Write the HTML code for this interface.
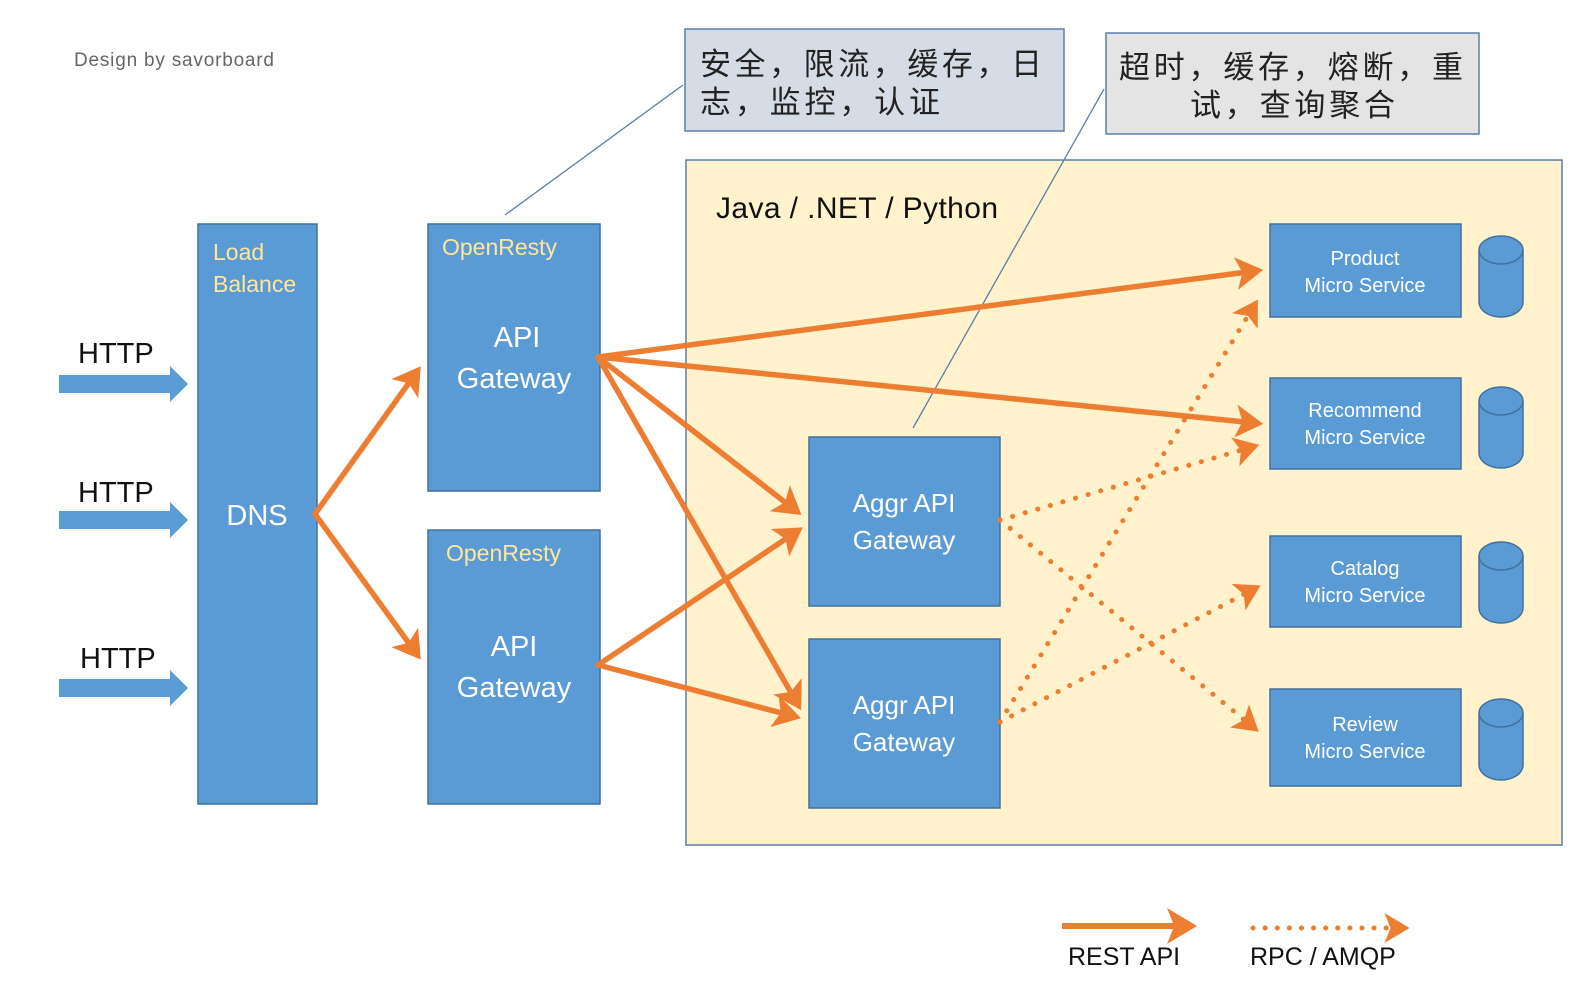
<!DOCTYPE html>
<html><head><meta charset="utf-8"><style>
html,body{margin:0;padding:0;background:#fff;width:1574px;height:982px;overflow:hidden}
svg{display:block}
text{font-family:"Liberation Sans","Noto Sans CJK SC",sans-serif}
</style></head><body>
<svg width="1574" height="982" viewBox="0 0 1574 982" xmlns="http://www.w3.org/2000/svg">
<defs>
<marker id="ah" markerWidth="6" markerHeight="6" refX="3.5" refY="3" orient="auto" markerUnits="strokeWidth"><path d="M0,0 L5,3 L0,6 L1.2,3 Z" fill="#ed7d31"/></marker>
<marker id="ahd" markerWidth="6" markerHeight="6" refX="3.5" refY="3" orient="auto" markerUnits="strokeWidth"><path d="M0,0 L5,3 L0,6 L1.2,3 Z" fill="#ed7d31"/></marker>
</defs>
<text x="74" y="66" font-size="19" fill="#666" textLength="200">Design by savorboard</text>

<rect x="685" y="29" width="379" height="102" fill="#d6dce5" stroke="#5b7fa8" stroke-width="1.5"/>
<text x="700" y="75" font-size="31" fill="#222" textLength="342">安全，限流，缓存，日</text>
<text x="700" y="113" font-size="31" fill="#222" textLength="240">志，监控，认证</text>
<rect x="1106" y="33" width="373" height="101" fill="#e4e4e4" stroke="#5b7fa8" stroke-width="1.5"/>
<text x="1119" y="78" font-size="31" fill="#222" textLength="344">超时，缓存，熔断，重</text>
<text x="1190" y="116" font-size="31" fill="#222" textLength="205">试，查询聚合</text>

<rect x="686" y="160" width="876" height="685" fill="#fff2cc" stroke="#5b7fa8" stroke-width="1.5"/>
<text x="716" y="218" font-size="30" fill="#111" textLength="282">Java / .NET / Python</text>

<line x1="505" y1="215" x2="683" y2="85" stroke="#5b7fa8" stroke-width="1.3"/>
<line x1="913" y1="428" x2="1104" y2="89" stroke="#5b7fa8" stroke-width="1.3"/>

<g fill="#5b9bd5">
<path d="M59,375 H170 V366 L188,384 L170,402 V393 H59 Z"/>
<path d="M59,511 H170 V502 L188,520 L170,538 V529 H59 Z"/>
<path d="M59,679 H170 V670 L188,688 L170,706 V697 H59 Z"/>
</g>
<g font-size="29" fill="#111">
<text x="78" y="363">HTTP</text><text x="78" y="502">HTTP</text><text x="80" y="668">HTTP</text>
</g>

<g fill="#5b9bd5" stroke="#41719c" stroke-width="1.5">
<rect x="198" y="224" width="119" height="580"/>
<rect x="428" y="224" width="172" height="267"/>
<rect x="428" y="530" width="172" height="274"/>
<rect x="809" y="437" width="191" height="169"/>
<rect x="809" y="639" width="191" height="169"/>
<rect x="1270" y="224" width="191" height="93"/>
<rect x="1270" y="378" width="191" height="91"/>
<rect x="1270" y="536" width="191" height="91"/>
<rect x="1270" y="689" width="191" height="97"/>
</g>
<g fill="#5b9bd5" stroke="#41719c" stroke-width="1.5">
<path d="M1479,250 V302 A22,15 0 0 0 1523,302 V250"/><ellipse cx="1501" cy="250" rx="22" ry="14"/>
<path d="M1479,401 V453 A22,15 0 0 0 1523,453 V401"/><ellipse cx="1501" cy="401" rx="22" ry="14"/>
<path d="M1479,556 V608 A22,15 0 0 0 1523,608 V556"/><ellipse cx="1501" cy="556" rx="22" ry="14"/>
<path d="M1479,713 V765 A22,15 0 0 0 1523,765 V713"/><ellipse cx="1501" cy="713" rx="22" ry="14"/>
</g>

<g fill="#ffe699" font-size="23">
<text x="213" y="260">Load</text><text x="213" y="292">Balance</text>
<text x="442" y="255">OpenResty</text><text x="446" y="561">OpenResty</text>
</g>
<g fill="#fff" font-size="29" text-anchor="middle">
<text x="257" y="525">DNS</text>
<text x="517" y="347">API</text><text x="514" y="388">Gateway</text>
<text x="514" y="656">API</text><text x="514" y="697">Gateway</text>
</g>
<g fill="#fff" font-size="26" text-anchor="middle">
<text x="904" y="512">Aggr API</text><text x="904" y="549">Gateway</text>
<text x="904" y="714">Aggr API</text><text x="904" y="751">Gateway</text>
</g>
<g fill="#fff" font-size="20" text-anchor="middle">
<text x="1365" y="265">Product</text><text x="1365" y="292">Micro Service</text>
<text x="1365" y="417">Recommend</text><text x="1365" y="444">Micro Service</text>
<text x="1365" y="575">Catalog</text><text x="1365" y="602">Micro Service</text>
<text x="1365" y="731">Review</text><text x="1365" y="758">Micro Service</text>
</g>

<g stroke="#ed7d31" stroke-width="5.5" fill="none" marker-end="url(#ah)" stroke-linecap="round">
<line x1="315" y1="514" x2="416" y2="373"/>
<line x1="315" y1="514" x2="416" y2="653"/>
<line x1="598" y1="357" x2="1255" y2="271"/>
<line x1="598" y1="357" x2="1255" y2="423"/>
<line x1="598" y1="357" x2="795" y2="510"/>
<line x1="598" y1="357" x2="797" y2="703"/>
<line x1="598" y1="665" x2="796" y2="532"/>
<line x1="598" y1="665" x2="793" y2="716"/>
</g>
<g stroke="#ed7d31" stroke-width="5" fill="none" stroke-dasharray="0.1 13" stroke-linecap="round" marker-end="url(#ahd)">
<line x1="1000" y1="520" x2="1252" y2="447"/>
<line x1="1000" y1="520" x2="1253" y2="727"/>
<line x1="1000" y1="722" x2="1254" y2="306"/>
<line x1="1000" y1="722" x2="1254" y2="589"/>
</g>

<line x1="1062" y1="926" x2="1188" y2="926" stroke="#ed7d31" stroke-width="6" marker-end="url(#ah)"/>
<line x1="1253" y1="928" x2="1402" y2="928" stroke="#ed7d31" stroke-width="5" stroke-dasharray="0.1 12" stroke-linecap="round" marker-end="url(#ahd)"/>
<text x="1068" y="965" font-size="25" fill="#111">REST API</text>
<text x="1250" y="965" font-size="25" fill="#111">RPC / AMQP</text>
</svg>
</body></html>
